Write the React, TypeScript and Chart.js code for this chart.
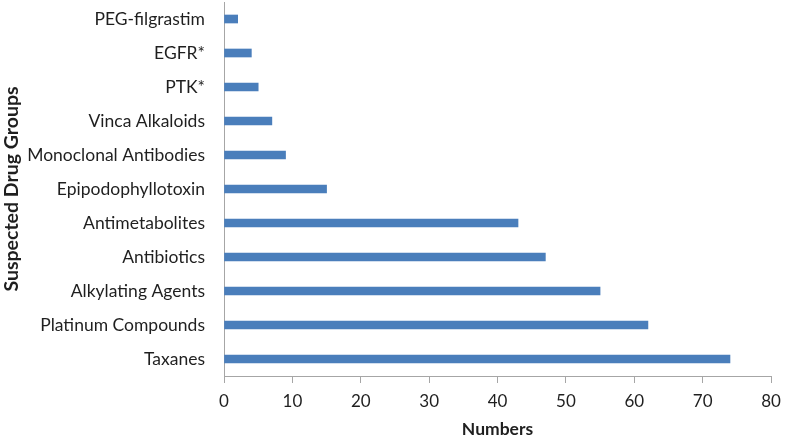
import React, { useEffect, useRef } from "react";
import { Chart, registerables } from "chart.js";

Chart.register(...registerables);

const categories = [
  "PEG-filgrastim",
  "EGFR*",
  "PTK*",
  "Vinca Alkaloids",
  "Monoclonal Antibodies",
  "Epipodophyllotoxin",
  "Antimetabolites",
  "Antibiotics",
  "Alkylating Agents",
  "Platinum Compounds",
  "Taxanes",
];
const counts = [2, 4, 5, 7, 9, 15, 43, 47, 55, 62, 74];
const xMin = 0;
const xMax = 80;
const xStep = 10;

const FONT = "Lato, 'Open Sans', sans-serif";
const TEXT = "#1f1f1f";
const AXIS = "#a6a6a6";

export default function App() {
  const ref = useRef<HTMLCanvasElement | null>(null);
  useEffect(() => {
    if (!ref.current) return;
    const chart = new Chart(ref.current, {
      type: "bar",
      data: {
        labels: categories,
        datasets: [
          {
            data: counts,
            backgroundColor: "#4a7ebb",
            borderWidth: 0,
            barThickness: 8,
          },
        ],
      },
      options: {
        indexAxis: "y",
        animation: false,
        responsive: true,
        maintainAspectRatio: false,
        layout: { padding: { top: 2, right: 17, bottom: 0, left: 0 } },
        plugins: { legend: { display: false }, tooltip: { enabled: false } },
        scales: {
          x: {
            min: xMin,
            max: xMax,
            ticks: {
              stepSize: xStep,
              color: TEXT,
              font: { family: FONT, size: 17 },
              padding: 8,
              maxRotation: 0,
            },
            grid: {
              display: true,
              drawOnChartArea: false,
              drawTicks: true,
              tickLength: 7,
              color: AXIS,
            },
            border: { display: true, color: AXIS, width: 1 },
            title: {
              display: true,
              text: "Numbers",
              color: TEXT,
              font: { family: FONT, size: 17.5, weight: "bold" },
              padding: { top: 4, bottom: 2 },
            },
            afterFit: (s: any) => {
              s.height = 66;
              s.paddingLeft = 0;
              s.paddingRight = 0;
            },
          },
          y: {
            ticks: {
              color: TEXT,
              font: { family: FONT, size: 17.5 },
              padding: 19,
            },
            grid: { display: false, drawTicks: false },
            border: { display: true, color: AXIS, width: 1 },
            title: {
              display: true,
              text: "Suspected Drug Groups",
              color: TEXT,
              font: { family: FONT, size: 19.5, weight: "bold" },
              padding: { top: 0, bottom: 4 },
            },
            afterFit: (s: any) => {
              s.width = 224;
              s.paddingTop = 0;
              s.paddingBottom = 0;
            },
          },
        },
      },
    });
    return () => chart.destroy();
  }, []);
  return (
    <div
      style={{
        position: "fixed",
        left: 0,
        top: 0,
        width: 788,
        height: 442,
        background: "#fff",
      }}
    >
      <canvas ref={ref} />
    </div>
  );
}
